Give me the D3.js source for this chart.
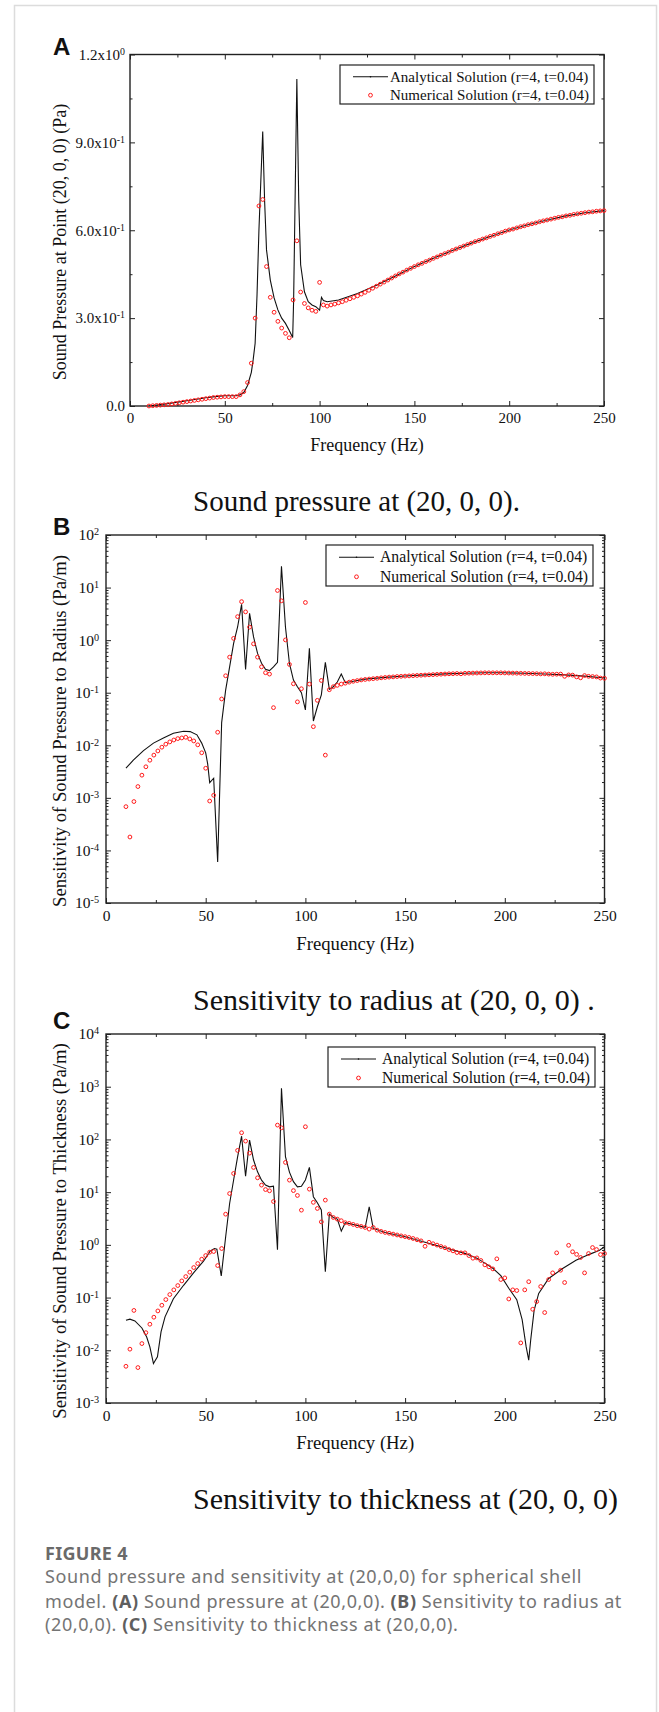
<!DOCTYPE html>
<html>
<head>
<meta charset="utf-8">
<script src="https://cdn.jsdelivr.net/npm/d3@7"></script>
<style>
  body { margin: 0; background: #fff; }
  svg { display: block; }
</style>
</head>
<body>
<svg id="fig" width="659" height="1712"></svg>
<script>
//////////////////// DATA ////////////////////
// numerical solution is sampled every 2 Hz, 10..250
const freqNum = d3.range(10, 251, 2);

// (A) sound pressure (Pa)
const pressureNum = [
  0.000, 0.001, 0.002, 0.003, 0.004, 0.005, 0.007, 0.009, 0.011, 0.013,
  0.015, 0.017, 0.019, 0.021, 0.023, 0.025, 0.027, 0.029, 0.030, 0.031,
  0.032, 0.032, 0.032, 0.032, 0.038, 0.049, 0.080, 0.146, 0.300, 0.683,
  0.705, 0.476, 0.371, 0.320, 0.289, 0.266, 0.248, 0.233, 0.362, 0.564,
  0.389, 0.350, 0.335, 0.327, 0.323, 0.422, 0.345, 0.341, 0.345, 0.348,
  0.352, 0.356, 0.361, 0.366, 0.371, 0.376, 0.382, 0.388, 0.395, 0.402,
  0.409, 0.416, 0.423, 0.430, 0.437, 0.444, 0.451, 0.457, 0.464, 0.470,
  0.476, 0.482, 0.487, 0.493, 0.498, 0.504, 0.509, 0.515, 0.520, 0.525,
  0.531, 0.536, 0.541, 0.546, 0.551, 0.556, 0.561, 0.565, 0.570, 0.574,
  0.579, 0.583, 0.588, 0.592, 0.597, 0.601, 0.604, 0.608, 0.612, 0.615,
  0.619, 0.622, 0.625, 0.629, 0.632, 0.635, 0.638, 0.641, 0.644, 0.646,
  0.649, 0.651, 0.654, 0.656, 0.658, 0.660, 0.662, 0.663, 0.665, 0.666,
  0.667
];
const pressureAna = [
  [10, 0.0], [14, 0.003], [20, 0.008], [26, 0.014], [30, 0.018], [36, 0.024],
  [40, 0.028], [46, 0.033], [50, 0.035], [56, 0.035], [58, 0.038], [60, 0.046],
  [62, 0.07], [64, 0.115], [65, 0.16], [66, 0.214], [67, 0.38], [68, 0.6],
  [70, 0.937], [71, 0.7], [72, 0.533], [74, 0.43], [76, 0.369], [78, 0.328],
  [80, 0.3], [82, 0.282], [84, 0.258], [85.8, 0.234], [86.3, 0.36], [88, 1.116],
  [89, 0.7], [90, 0.482], [92, 0.39], [94, 0.356], [96, 0.345], [98, 0.339],
  [100, 0.327], [101, 0.371], [102, 0.36], [104, 0.356], [110, 0.362], [120, 0.384],
  [130, 0.412], [140, 0.444], [150, 0.476], [160, 0.504], [170, 0.531], [180, 0.556],
  [190, 0.579], [200, 0.601], [210, 0.619], [220, 0.635], [230, 0.649], [240, 0.660],
  [250, 0.667]
];

// (B) sensitivity to radius (Pa/m)
const radiusNum = [
  6.8e-4, 1.8e-4, 8.5e-4, 1.64e-3, 2.7e-3, 3.9e-3, 5.2e-3, 6.5e-3, 7.8e-3, 9.2e-3,
  1.05e-2, 1.16e-2, 1.26e-2, 1.34e-2, 1.38e-2, 1.42e-2, 1.32e-2, 1.21e-2, 1.02e-2, 7.2e-3,
  3.66e-3, 8.7e-4, 1.12e-3, 1.77e-2, 7.6e-2, 0.21, 0.475, 1.08, 2.8, 5.4,
  3.45, 1.77, 0.85, 0.475, 0.31, 0.24, 0.226, 0.052, 8.8, 5.6,
  1.01, 0.345, 0.148, 0.067, 0.119, 5.2, 0.146, 0.0226, 0.0716, 0.171,
  0.0065, 0.114, 0.13, 0.138, 0.146, 0.152, 0.159, 0.165, 0.170, 0.175,
  0.179, 0.182, 0.185, 0.188, 0.192, 0.195, 0.198, 0.200, 0.203, 0.205,
  0.207, 0.209, 0.211, 0.213, 0.215, 0.217, 0.219, 0.221, 0.223, 0.225,
  0.227, 0.229, 0.230, 0.232, 0.229, 0.234, 0.235, 0.236, 0.237, 0.238,
  0.239, 0.239, 0.239, 0.239, 0.239, 0.238, 0.237, 0.236, 0.235, 0.234,
  0.233, 0.232, 0.231, 0.230, 0.228, 0.229, 0.226, 0.224, 0.225, 0.226,
  0.205, 0.218, 0.216, 0.200, 0.192, 0.212, 0.205, 0.203, 0.200, 0.190,
  0.188
];
const radiusAna = [
  [10, 3.66e-3], [13.7, 5.2e-3], [18.8, 7.9e-3], [23.8, 0.011], [28.8, 0.0138],
  [33.8, 0.017], [38.9, 0.0185], [42.2, 0.0182], [45.6, 0.0158], [48, 0.011],
  [50, 7.2e-3], [51, 4.4e-3], [52, 1.95e-3], [54, 2.36e-3], [56, 6e-5],
  [58, 0.027], [60, 0.112], [62, 0.31], [64, 0.87], [66, 1.78], [68, 4.8],
  [70, 0.277], [72, 3.24], [74, 1.15], [76, 0.56], [78, 0.363], [80, 0.28],
  [82, 0.263], [84, 0.31], [86, 0.38], [88, 25.4], [90, 1.78], [92, 0.36],
  [94, 0.174], [96, 0.13], [98, 0.1], [100, 0.047], [102, 0.7], [104, 0.029],
  [106, 0.054], [108, 0.091], [110, 0.377], [112, 0.116], [114, 0.13], [116, 0.16],
  [118, 0.226], [120, 0.155], [124, 0.165], [130, 0.181], [140, 0.196], [150, 0.208],
  [160, 0.218], [170, 0.228], [180, 0.235], [190, 0.239], [200, 0.239], [210, 0.234],
  [220, 0.227], [230, 0.218], [240, 0.207], [250, 0.19]
];

// (C) sensitivity to thickness (Pa/m)
const thickNum = [
  4.97e-3, 1.05e-2, 0.057, 4.7e-3, 0.0134, 0.0216, 0.0312, 0.0424, 0.0558, 0.0715,
  0.0916, 0.114, 0.14, 0.169, 0.207, 0.25, 0.303, 0.371, 0.442, 0.535,
  0.627, 0.726, 0.747, 0.405, 0.852, 3.82, 9.4, 22.6, 61.9, 134,
  93, 55, 29.4, 18.7, 13.6, 11.2, 10.6, 6.65, 187, 166,
  36.6, 16.9, 10.7, 8.65, 4.55, 174, 11.4, 6.4, 4.9, 2.73,
  7.06, 3.83, 3.31, 3.08, 2.87, 2.63, 2.55, 2.44, 2.31, 2.24,
  2.14, 1.99, 2.14, 1.9, 1.8, 1.72, 1.66, 1.6, 1.54, 1.48,
  1.43, 1.38, 1.32, 1.25, 1.19, 0.94, 1.12, 1.05, 0.99, 0.93,
  0.88, 0.815, 0.77, 0.715, 0.705, 0.705, 0.627, 0.558, 0.565, 0.505,
  0.418, 0.383, 0.35, 0.543, 0.22, 0.236, 0.094, 0.14, 0.136, 0.0138,
  0.14, 0.2, 0.06, 0.084, 0.162, 0.052, 0.22, 0.294, 0.705, 0.33,
  0.193, 0.98, 0.74, 0.66, 0.576, 0.294, 0.684, 0.89, 0.815, 0.655,
  0.684
];
const thickAna = [
  [10, 0.037], [12, 0.039], [14.5, 0.036], [18, 0.0265], [20.4, 0.0179], [22, 0.0116],
  [23.8, 0.0056], [25.8, 0.0075], [27.6, 0.0223], [29.6, 0.043], [33.8, 0.095],
  [38.9, 0.171], [43.9, 0.295], [48.9, 0.49], [52.3, 0.77], [54.4, 0.85], [55.6, 0.83],
  [57.8, 0.258], [60, 1.41], [62, 6.1], [64, 17], [66, 46.8], [68, 115], [70, 20],
  [72, 97], [74, 40.7], [76, 24.3], [78, 16.9], [80, 13.6], [82, 12.6], [84, 13],
  [86, 0.81], [88, 933], [90, 46.9], [92, 24], [94, 15.8], [96, 12.6], [98, 12.9],
  [100, 17], [102, 29.5], [104, 8.2], [106, 6.3], [108, 4.6], [110, 0.31], [112, 3.83],
  [114, 3.31], [116, 3.08], [118, 1.82], [120, 2.63], [124, 2.44], [128, 2.24],
  [130, 2.14], [132, 5.27], [134, 2.05], [140, 1.72], [150, 1.43], [160, 1.12],
  [170, 0.88], [180, 0.69], [186, 0.56], [190, 0.45], [194, 0.36], [198, 0.26],
  [202, 0.15], [206, 0.091], [208.7, 0.038], [210.7, 0.0117], [212, 0.0065],
  [213, 0.0158], [214.7, 0.057], [217, 0.12], [222, 0.23], [229, 0.355],
  [235.7, 0.51], [242.4, 0.66], [247.5, 0.79], [250, 0.92]
];

//////////////////// TICKS & TEXT ////////////////////
const xTicks = [0, 50, 100, 150, 200, 250];
const xMinorTicks = [25, 75, 125, 175, 225];
const yTicksA = [0, 0.3, 0.6, 0.9, 1.2];
const yMinorA = [0.15, 0.45, 0.75, 1.05];
const yMantA = ["0.0", "3.0x10", "6.0x10", "9.0x10", "1.2x10"];
const yExpA = ["", "-1", "-1", "-1", "0"];
const yExpB = [-5, -4, -3, -2, -1, 0, 1, 2];
const yExpC = [-3, -2, -1, 0, 1, 2, 3, 4];

const legendLabels = ["Analytical Solution (r=4, t=0.04)", "Numerical Solution (r=4, t=0.04)"];
const subCaptions = ["Sound pressure at (20, 0, 0).", "Sensitivity to radius at (20, 0, 0) .", "Sensitivity to thickness at (20, 0, 0)"];

const SERIF = "'Liberation Serif', 'Times New Roman', serif";

//////////////////// SVG ////////////////////
const svg = d3.select("#fig");

// card outline
svg.append("rect")
  .attr("x", 14.5).attr("y", 5.5)
  .attr("width", 642).attr("height", 1720)
  .attr("fill", "none")
  .attr("stroke", "#dcdcdc")
  .attr("stroke-width", 1.5);

//////////////////// DRAW PANEL FUNCTION ////////////////////
function drawPanel(p) {

  const g = svg.append("g");

  const x = d3.scaleLinear().domain([0, 250]).range([p.left, p.right]);
  const y = (p.log ? d3.scaleLog() : d3.scaleLinear())
    .domain(p.yDomain)
    .range([p.bottom, p.top]);

  // minor ticks for log axes (2..9 inside each decade)
  let yMajor, yMinor;
  if (p.log) {
    yMajor = p.yExp.map(e => Math.pow(10, e));
    yMinor = [];
    p.yExp.slice(0, -1).forEach(e => {
      for (let k = 2; k <= 9; k++) yMinor.push(k * Math.pow(10, e));
    });
  } else {
    yMajor = p.yTicks;
    yMinor = p.yMinor;
  }

  const axes = [
    { ax: d3.axisBottom(x).tickValues(xTicks).tickSize(-5).tickPadding(p.xPad).tickFormat(d3.format("d")), t: `translate(0,${p.bottom})` },
    { ax: d3.axisBottom(x).tickValues(xMinorTicks).tickSize(-3).tickFormat(""), t: `translate(0,${p.bottom})` },
    { ax: d3.axisTop(x).tickValues(xTicks).tickSize(-5).tickFormat(""), t: `translate(0,${p.top})` },
    { ax: d3.axisTop(x).tickValues(xMinorTicks).tickSize(-3).tickFormat(""), t: `translate(0,${p.top})` },
    { ax: d3.axisLeft(y).tickValues(yMajor).tickSize(-5).tickPadding(p.yPad).tickFormat(""), t: `translate(${p.left},0)`, ylab: true },
    { ax: d3.axisLeft(y).tickValues(yMinor).tickSize(-2.5).tickFormat(""), t: `translate(${p.left},0)` },
    { ax: d3.axisRight(y).tickValues(yMajor).tickSize(-5).tickFormat(""), t: `translate(${p.right},0)` },
    { ax: d3.axisRight(y).tickValues(yMinor).tickSize(-2.5).tickFormat(""), t: `translate(${p.right},0)` }
  ];

  axes.forEach(a => {
    const ag = g.append("g").attr("transform", a.t).call(a.ax);
    ag.select(".domain").remove();
    ag.selectAll(".tick line").attr("stroke", "#222").attr("stroke-width", 1);
    ag.attr("font-family", SERIF).attr("font-size", p.tickFs).attr("fill", "#111");
    ag.selectAll(".tick text").attr("fill", "#111");

    if (a.ylab) {
      ag.selectAll(".tick text").each(function (d, i) {
        const t = d3.select(this);
        const mant = p.log ? "10" : yMantA[i];
        const ex = p.log ? String(p.yExp[i]) : yExpA[i];
        t.append("tspan").text(mant);
        if (ex !== "") {
          t.append("tspan")
            .attr("dy", "-0.5em")
            .attr("font-size", p.tickFs * 0.66)
            .text(ex);
        }
      });
    }
  });

  // frame
  g.append("rect")
    .attr("x", p.left).attr("y", p.top)
    .attr("width", p.right - p.left).attr("height", p.bottom - p.top)
    .attr("fill", "none")
    .attr("stroke", "#222")
    .attr("stroke-width", 1.4);

  // axis titles
  g.append("text")
    .attr("x", (p.left + p.right) / 2)
    .attr("y", p.xTitleY)
    .attr("text-anchor", "middle")
    .attr("font-family", SERIF)
    .attr("font-size", p.titleFs)
    .attr("fill", "#111")
    .text("Frequency (Hz)");

  g.append("text")
    .attr("transform", `translate(66,${p.yTitleCy}) rotate(-90)`)
    .attr("text-anchor", "middle")
    .attr("font-family", SERIF)
    .attr("font-size", p.titleFs)
    .attr("fill", "#111")
    .text(p.yTitle);

  // data
  const clipId = "clip" + p.id;
  svg.append("clipPath").attr("id", clipId)
    .append("rect")
    .attr("x", p.left).attr("y", p.top)
    .attr("width", p.right - p.left).attr("height", p.bottom - p.top);

  const line = d3.line().x(d => x(d[0])).y(d => y(d[1]));

  g.append("path")
    .datum(p.ana)
    .attr("clip-path", `url(#${clipId})`)
    .attr("d", line)
    .attr("fill", "none")
    .attr("stroke", "#111")
    .attr("stroke-width", 1.1)
    .attr("stroke-linejoin", "miter");

  g.append("g")
    .selectAll("circle")
    .data(freqNum.map((f, i) => [f, p.num[i]]))
    .join("circle")
    .attr("cx", d => x(d[0]))
    .attr("cy", d => y(d[1]))
    .attr("r", 1.9)
    .attr("fill", "none")
    .attr("stroke", "#ff1a1a")
    .attr("stroke-width", 1);

  // legend
  const L = p.legend;
  const lg = g.append("g");
  lg.append("rect")
    .attr("x", L.x).attr("y", L.y)
    .attr("width", L.w).attr("height", L.h)
    .attr("fill", "#fff")
    .attr("stroke", "#222")
    .attr("stroke-width", 1.2);
  const r1 = L.y + L.h * 0.3, r2 = L.y + L.h * 0.775;
  lg.append("line")
    .attr("x1", L.x + 13).attr("x2", L.x + 48)
    .attr("y1", r1).attr("y2", r1)
    .attr("stroke", "#111").attr("stroke-width", 1.1);
  lg.append("circle")
    .attr("cx", L.x + 30.5).attr("cy", r1).attr("r", 0.8).attr("fill", "#111");
  lg.append("circle")
    .attr("cx", L.x + 30.5).attr("cy", r2).attr("r", 1.9)
    .attr("fill", "none").attr("stroke", "#ff1a1a").attr("stroke-width", 1);
  [r1, r2].forEach((ry, i) => {
    lg.append("text")
      .attr("x", L.x + L.tx).attr("y", ry + L.fs * 0.33)
      .attr("font-family", SERIF)
      .attr("font-size", L.fs)
      .attr("fill", "#111")
      .text(legendLabels[i]);
  });

  // panel letter
  svg.append("text")
    .attr("x", 53).attr("y", p.letterY)
    .attr("font-family", "'Liberation Sans', Arial, sans-serif")
    .attr("font-weight", "bold")
    .attr("font-size", 24)
    .attr("fill", "#111")
    .text(p.id);

  // sub caption
  svg.append("text")
    .attr("x", 193).attr("y", p.capY)
    .attr("font-family", SERIF)
    .attr("font-size", p.capFs)
    .attr("fill", "#111")
    .text(p.caption);
}

//////////////////// PANELS ////////////////////
drawPanel({
  id: "A", left: 130, right: 604, top: 54.5, bottom: 406,
  log: false, yDomain: [0, 1.2], yTicks: yTicksA, yMinor: yMinorA,
  num: pressureNum, ana: pressureAna,
  xPad: 6, yPad: 5, tickFs: 15, titleFs: 18,
  xTitleY: 451, yTitleCy: 242, yTitle: "Sound Pressure at Point (20, 0, 0) (Pa)",
  legend: { x: 340, y: 65, w: 254, h: 39, tx: 50, fs: 15 },
  letterY: 55, capY: 511, capFs: 29, caption: subCaptions[0]
});

drawPanel({
  id: "B", left: 106, right: 604.5, top: 535, bottom: 903,
  log: true, yDomain: [1e-5, 1e2], yExp: yExpB,
  num: radiusNum, ana: radiusAna,
  xPad: 7, yPad: 7, tickFs: 15.5, titleFs: 18.7,
  xTitleY: 950, yTitleCy: 731, yTitle: "Sensitivity of Sound Pressure to Radius (Pa/m)",
  legend: { x: 326, y: 545, w: 267, h: 41, tx: 54, fs: 15.7 },
  letterY: 535, capY: 1010, capFs: 30, caption: subCaptions[1]
});

drawPanel({
  id: "C", left: 106, right: 604.5, top: 1034, bottom: 1403,
  log: true, yDomain: [1e-3, 1e4], yExp: yExpC,
  num: thickNum, ana: thickAna,
  xPad: 7, yPad: 7, tickFs: 15.5, titleFs: 18.7,
  xTitleY: 1449, yTitleCy: 1231, yTitle: "Sensitivity of Sound Pressure to Thickness (Pa/m)",
  legend: { x: 328, y: 1047, w: 267, h: 40, tx: 54, fs: 15.7 },
  letterY: 1029, capY: 1509, capFs: 30, caption: subCaptions[2]
});

//////////////////// FIGURE CAPTION ////////////////////
const SANS = "'Noto Sans', 'Open Sans', sans-serif";
svg.append("text")
  .attr("x", 45).attr("y", 1560)
  .attr("font-family", SANS).attr("font-size", 18).attr("font-weight", "bold")
  .attr("letter-spacing", 0.3)
  .attr("fill", "#6a6a6a")
  .text("FIGURE 4");

const captionLines = [
  [["Sound pressure and sensitivity at (20,0,0) for spherical shell", false]],
  [["model. ", false], ["(A)", true], [" Sound pressure at (20,0,0). ", false], ["(B)", true], [" Sensitivity to radius at", false]],
  [["(20,0,0). ", false], ["(C)", true], [" Sensitivity to thickness at (20,0,0).", false]]
];
const captionY = [1583, 1608, 1631];

captionLines.forEach((parts, i) => {
  const t = svg.append("text")
    .attr("x", 45).attr("y", captionY[i])
    .attr("font-family", SANS).attr("font-size", 18)
    .attr("letter-spacing", 0.6)
    .attr("fill", "#747474")
    .attr("xml:space", "preserve");
  parts.forEach(([s, b]) => {
    t.append("tspan")
      .attr("font-weight", b ? "bold" : "normal")
      .attr("fill", b ? "#5f5f5f" : "#747474")
      .text(s);
  });
});
</script>
</body>
</html>
